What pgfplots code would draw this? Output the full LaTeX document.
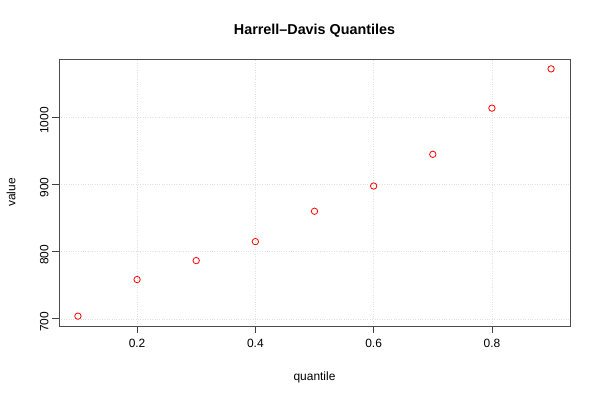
\documentclass[border=0pt]{standalone}
\usepackage{pgfplots}
\pgfplotsset{compat=1.18}
\usepackage{fontspec}
\setmainfont{Liberation Sans}
\begin{document}
\begin{tikzpicture}[x=1bp,y=1bp]
\useasboundingbox (-59,-74) rectangle (541,326);
\begin{axis}[
  at={(0,0)}, anchor=south west,
  scale only axis, width=511bp, height=267bp,
  xmin=0.068, xmax=0.932, ymin=689.3, ymax=1087,
  xtick={0.2,0.4,0.6,0.8}, ytick={700,800,900,1000},
  xticklabels={0.2,0.4,0.6,0.8},
  yticklabels={700,800,900,1000},
  xtick pos=bottom, ytick pos=left,
  tick align=outside, major tick length=7bp,
  tick style={black!75, line width=0.8pt},
  axis line style={black!70, line width=0.8pt},
  grid=major, major grid style={black!12, dotted, line width=0.6pt},
  ticklabel style={font=\fontsize{12}{14}\selectfont},
  xticklabel style={yshift=-3bp},
  yticklabel style={rotate=90, anchor=south, xshift=-3bp},
  /pgf/number format/assume math mode=true,
]
\addplot[only marks, mark=o, mark size=3.2bp, red, mark options={line width=0.8pt}] coordinates {
(0.1,704.0) (0.2,758.5) (0.3,786.7) (0.4,815.0) (0.5,860.2)
(0.6,897.8) (0.7,945.0) (0.8,1013.8) (0.9,1072.3)
};
\end{axis}
\node[font=\bfseries\fontsize{14.4}{16}\selectfont] at (255.5,295) {Harrell--Davis Quantiles};
\node[font=\fontsize{12}{14}\selectfont] at (255.5,-51) {quantile};
\node[font=\fontsize{12}{14}\selectfont, rotate=90] at (-48,133.5) {value};
\end{tikzpicture}
\end{document}
